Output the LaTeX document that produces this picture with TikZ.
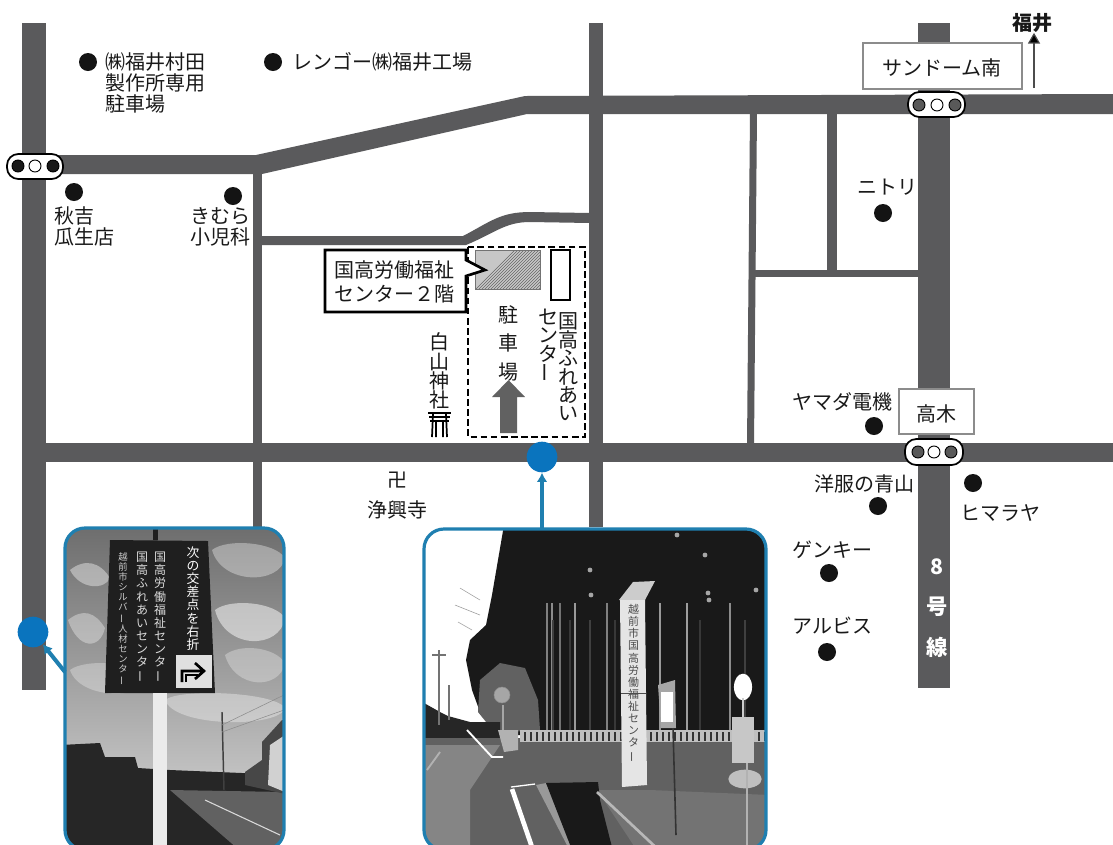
\documentclass[tikz,border=0pt]{standalone}
\usepackage{fontspec}
\usepackage{graphicx}
\usetikzlibrary{arrows.meta}
\setmainfont{Noto Sans CJK JP}
\newfontfamily\jpfont{Noto Sans CJK JP}
\newcommand{\chobar}{\rotatebox[origin=c]{90}{ー}}
\definecolor{roadc}{HTML}{5A5A5C}
\definecolor{bluedot}{HTML}{0A74BE}
\definecolor{framec}{HTML}{1F7FB0}
\begin{document}
\begin{tikzpicture}[x=0.75pt,y=-0.75pt,line join=miter,
  road/.style={fill=roadc,draw=none},
  lbl/.style={font=\jpfont\fontsize{15}{15.8}\selectfont,inner sep=0pt,text=black!90},
  routelbl/.style={inner sep=0pt,text=white,font=\jpfont\bfseries\fontsize{16}{17}\selectfont},
  dotmark/.style={circle,fill=black!92,draw=none,minimum size=13.5pt,inner sep=0pt},
  pill/.style={draw=black,fill=white,line width=1.3pt,rounded corners=8.5pt},
  lampdark/.style={circle,fill=#1,draw=black,line width=0.7pt,minimum size=9pt,inner sep=0pt},
  bluemark/.style={circle,fill=bluedot,draw=none,minimum size=23pt,inner sep=0pt},
  bluearrow/.style={draw=framec,line width=3pt,-{Latex[length=7pt,width=8pt]}},
  photoframe/.style={draw=framec,line width=2.4pt,rounded corners=15pt},
  photot/.style={inner sep=0pt,align=center,anchor=north},
]
\useasboundingbox (0,0) rectangle (1113,844);
\fill[white] (0,0) rectangle (1113,844);

% roads
\fill[road] (22,23) rectangle (46,690);
\fill[road] (46,155) -- (256,155) -- (525,96) -- (1113,94) -- (1113,114) -- (527,114) -- (262,174) -- (46,174) -- cycle;
\fill[road] (253,170) rectangle (262,527);
\fill[road] (258,236) -- (463,236) .. controls (490,222) and (500,212) .. (530,212) -- (590,213) -- (590,223) -- (530,222) .. controls (505,222) and (495,233) .. (466,245) -- (258,245) -- cycle;
\fill[road] (589,23) rectangle (603,527);
\fill[road] (46,443) rectangle (1113,462);
\fill[road] (918,23) rectangle (950,688);
\fill[road] (750,112) -- (757,112) -- (754,445) -- (747,445) -- cycle;
\fill[road] (827,112) rectangle (837,272);
\fill[road] (750,270) rectangle (920,277);

% traffic lights
\draw[pill] (7,154) rectangle (63,179);
\node[lampdark=black!90] (l1a) at (18,166) {};
\node[lampdark=white] (l1b) at (35,166) {};
\node[lampdark=black!90] (l1c) at (53,166) {};
\draw[pill] (908,92) rectangle (965,117);
\node[lampdark=black!65] (l2a) at (919,105) {};
\node[lampdark=white] (l2b) at (937,105) {};
\node[lampdark=black!65] (l2c) at (955,105) {};
\draw[pill] (905,439) rectangle (963,465);
\node[lampdark=black!65] (l3a) at (918,452) {};
\node[lampdark=white] (l3b) at (934,452) {};
\node[lampdark=black!65] (l3c) at (951,452) {};

% place boxes
\draw[draw=black!45,fill=white,line width=0.9pt] (863,43) rectangle (1022,89);
\node[lbl] (sandome) at (942,68) {サンドーム南};
\draw[draw=black!45,fill=white,line width=0.9pt] (899,389) rectangle (974,434);
\node[lbl] (takagi) at (936,414) {高木};

% Fukui
\node[lbl,font=\jpfont\bfseries\fontsize{15}{15.8}\selectfont] (fukui) at (1032,23) {福井};
\coordinate (fukuifoot) at (1034,88);
\draw[black!70,line width=0.9pt,-{Triangle[length=8pt,width=9pt,fill=black]}] (fukuifoot) -- (fukui.south -| fukuifoot);

% dots
\foreach \n/\x/\y in {d1/88/62,d2/273/62,d3/74/192,d4/233/196,d5/883/213,d6/874/426,d7/878/506,d8/973/483,d9/829/573,d10/827/652}
  \node[dotmark] (\n) at (\x,\y) {};

% labels
\node[lbl,anchor=west,align=left] (t1) at (105,83) {㈱福井村田\\製作所専用\\駐車場};
\node[lbl,anchor=west] (t2) at (292,62) {レンゴー㈱福井工場};
\node[lbl,anchor=west,align=left] (t3) at (54,226) {秋吉\\瓜生店};
\node[lbl,anchor=east,align=right] (t4) at (251,227) {きむら\\小児科};
\node[lbl,anchor=west] (t5) at (857,187) {ニトリ};
\node[lbl,anchor=west] (t6) at (792,402) {ヤマダ電機};
\node[lbl,anchor=west] (t7) at (814,484) {洋服の青山};
\node[lbl,anchor=west] (t8) at (960,513) {ヒマラヤ};
\node[lbl,anchor=west] (t9) at (792,550) {ゲンキー};
\node[lbl,anchor=west] (t10) at (792,626) {アルビス};
\node[routelbl] (r1) at (937,567) {8};
\node[routelbl] (r2) at (937,607) {号};
\node[routelbl] (r3) at (937,647) {線};
\node[lbl] (manji) at (397,480) {卍};
\node[lbl] (jokoji) at (397,510) {浄興寺};

% site
\draw[black,line width=1.7pt,dash pattern=on 5pt off 2.6pt] (468,247) rectangle (585,437);
\begin{scope}
  \clip (475,250) rectangle (540,289);
  \fill[black!22] (475,250) rectangle (540,289);
  \foreach \k in {0,3,...,110} \draw[black!60,line width=0.5pt] (470+\k,295) -- (470+\k+50,245);
\end{scope}
\draw[black!55,line width=0.5pt] (475,250) rectangle (540,289);
\draw[black,line width=1pt,fill=white] (551,250) rectangle (570,300);
\draw[black,line width=2pt,fill=white] (325,250) -- (466,250) -- (466,260) -- (485,270) -- (466,276) -- (466,312) -- (325,312) -- cycle;
\node[lbl] (c1) at (394,270) {国高労働福祉};
\node[lbl] (c2) at (394,294) {センター２階};
\foreach \c [count=\i from 0] in {国,高,ふ,れ,あ,い}
  \node[lbl] (fa\i) at (568,{321+\i*18.5}) {\c};
\foreach \c [count=\i from 0] in {セ,ン,タ,\chobar}
  \node[lbl] (ce\i) at (548,{317+\i*18.5}) {\c};
\foreach \c/\y [count=\i] in {駐/315,車/343,場/372}
  \node[lbl] (pk\i) at (508,\y) {\c};
\foreach \c/\y [count=\i] in {白/342,山/362,神/381,社/400}
  \node[lbl] (hk\i) at (439,\y) {\c};
\fill[black!62] (500,433) -- (500,397) -- (492,397) -- (508.5,380) -- (525,397) -- (517,397) -- (517,433) -- cycle;
% torii
\draw[black,line width=1.2pt] (428,413) -- (451,413) (429,417) -- (450,417) (430,421) -- (449,421);
\draw[black,line width=1.3pt] (433,414) -- (432,437) (446,414) -- (447,437) (436,421) -- (436,437) (443,421) -- (443,437);

% left photo
\begin{scope}
  \clip[rounded corners=15pt] (65,528) rectangle (284,850);
  \shade[top color=black!58,bottom color=black!22] (60,520) rectangle (290,790);
  \foreach \a/\b/\c/\d/\o in {70/570/110/590/0.4,68/620/105/650/0.35,212/550/285/585/0.35,215/610/285/650/0.5,70/670/150/700/0.3,165/700/285/728/0.35,225/655/285/690/0.3}
    \fill[white,opacity=\o] (\a,\b) .. controls (\a+15,\b-12) and (\c-10,\b-8) .. (\c,\b+8) .. controls (\c-5,\d) and (\a+10,\d) .. (\a,\b) -- cycle;
  % ground and buildings
  \fill[black!85] (60,745) -- (100,743) -- (105,757) -- (135,757) -- (138,768) -- (170,770) -- (290,775) -- (290,855) -- (60,855) -- cycle;
  \fill[black!62] (170,790) -- (285,792) -- (285,855) -- (245,855) -- cycle;
  \draw[black!15,line width=0.8pt] (205,800) -- (280,835);
  \fill[black!72] (262,742) -- (282,720) -- (290,720) -- (290,795) -- (245,785) -- (245,772) -- (262,760) -- cycle;
  \fill[black!18] (270,745) -- (285,735) -- (285,792) -- (268,785) -- cycle;
  \draw[black!75,line width=1.1pt] (222,712) -- (224,790);
  \draw[black!45,line width=0.4pt] (222,725) -- (284,695) (222,732) -- (284,710);
  \fill[black!88] (153,528) rectangle (158,540);
  \fill[black!88] (110,540) -- (208,541) -- (215,693) -- (105,693) -- cycle;
  \fill[black!8] (153,693) rectangle (167,855);
  \fill[white!88!black] (176,655) rectangle (212,688);
  \draw[black,line width=2pt] (182,682) -- (182,671) -- (202,671) (195,663) -- (204,671) -- (195,679);
  \draw[black,line width=1.4pt] (186,682) -- (186,675) -- (198,675);
\end{scope}
\node[photot,text=white,font=\jpfont\fontsize{9.6}{9.9}\selectfont] (sg1) at (193,546) {次\\の\\交\\差\\点\\を\\右\\折};
\node[photot,text=black!15,font=\jpfont\fontsize{9}{9.8}\selectfont] (sg2) at (160,552) {国\\高\\労\\働\\福\\祉\\セ\\ン\\タ\\\chobar};
\node[photot,text=black!15,font=\jpfont\fontsize{9}{9.8}\selectfont] (sg3) at (142,552) {国\\高\\ふ\\れ\\あ\\い\\セ\\ン\\タ\\\chobar};
\node[photot,text=black!20,font=\jpfont\fontsize{7}{7.6}\selectfont] (sg4) at (123,552) {越\\前\\市\\シ\\ル\\バ\\\chobar\\人\\材\\セ\\ン\\タ\\\chobar};
\draw[photoframe] (65,528) rectangle (284,850);
\node[bluemark] (b1) at (33,632) {};
\coordinate (p1edge) at (65,672);
\draw[bluearrow] (p1edge) -- (b1);

% right photo
\begin{scope}
  \clip[rounded corners=15pt] (424,529) rectangle (766,850);
  \fill[white] (420,525) rectangle (770,745);
  % forest
  \fill[black!90] (504,525) -- (492,595) -- (486,625) -- (470,640) -- (466,660) -- (472,690) -- (480,712) -- (498,735) -- (770,735) -- (770,525) -- cycle;
  \fill[black!62] (480,680) -- (500,663) -- (525,668) -- (538,700) -- (540,730) -- (495,733) -- (478,712) -- cycle;
  \fill[black!85] (424,703) -- (440,712) -- (448,716) -- (470,722) -- (500,722) -- (500,738) -- (424,738) -- cycle;
  \foreach \x/\g in {547/50,552/45,560/55,575/40,607/50,660/40,687/38,730/45}
    \draw[black!\g,line width=1.6pt] (\x,603) -- (\x,732);
  \foreach \x/\g in {553/75,570/78,590/75,615/78,700/78,745/75}
    \draw[black!\g,line width=1pt] (\x,620) -- (\x,732);
  \foreach \x/\y in {590/570,591/595,708/593,709/600,705/555,756/590,677/535}
    \fill[black!35] (\x,\y) circle (1.8pt);
  % branches against the sky
  \draw[black!40,line width=0.4pt] (480,600) -- (460,588) (480,615) -- (455,605) (472,630) -- (458,622);
  \draw[black!55,line width=1.1pt] (439,650) -- (439,725) (432,655) -- (446,655);
  \draw[black!55,line width=0.8pt] (449,685) -- (449,720);
  % ground
  \fill[black!62] (424,738) rectangle (770,855);
  \fill[black!48] (424,745) -- (500,745) -- (470,790) -- (470,855) -- (424,855) -- cycle;
  \fill[black!25] (520,730) rectangle (770,742);
  \foreach \k in {0,6,...,240} \fill[black!80] (524+\k,732) rectangle (526+\k,741);
  \fill[white!70!black] (498,730) -- (518,730) -- (518,750) -- (504,752) -- cycle;
  \draw[black!45,fill=black!35] (502,695) circle (6pt);
  \draw[black!35,line width=1pt] (503,705) -- (503,730);
  \draw[white,line width=1.4pt] (467,730) -- (492,757) -- (503,757);
  \draw[black!30,line width=1.4pt] (427,770) -- (440,752);
  \draw[white,line width=3.5pt] (512,789) -- (533,850);
  \draw[white,line width=1pt] (511,787) -- (535,784);
  \fill[black!55] (597,790) -- (650,790) -- (770,795) -- (770,855) -- (640,855) -- cycle;
  \fill[black!40] (536,785) -- (546,783) -- (582,855) -- (572,855) -- cycle;
  \fill[black!90] (546,783) -- (598,782) -- (600,800) -- (614,855) -- (574,855) -- cycle;
  \draw[black!28,line width=2pt] (597,792) -- (664,855);
  % pillar
  \fill[black!20] (619,600) -- (633,582) -- (655,581) -- (645,600) -- cycle;
  \fill[black!10] (620,600) -- (622,787) -- (647,785) -- (645,600) -- cycle;
  \draw[black!70,line width=0.4pt] (621,693) -- (646,693);
  % small sign
  \fill[black!35] (658,685) -- (675,680) -- (676,728) -- (661,728) -- cycle;
  \fill[white] (661,692) rectangle (673,722);
  \draw[black!80,line width=1.2pt] (673,728) -- (676,835);
  % mirror and bus stop
  \fill[black!22] (732,717) rectangle (754,763);
  \fill[white] (743,687) ellipse (6.8pt and 10pt);
  \draw[black!20,line width=1.6pt] (743,698) -- (743,717);
  \fill[black!25] (745,779) ellipse (12.5pt and 7pt);
  \draw[black!30,line width=1.6pt] (747,763) -- (747,855);
\end{scope}
\node[photot,text=black!70,font=\jpfont\fontsize{8.2}{9.1}\selectfont] (pl1) at (633.5,604) {越\\前\\市\\国\\高\\労\\働\\福\\祉\\セ\\ン\\タ\\\chobar};
\draw[photoframe] (424,529) rectangle (766,850);
\node[bluemark] (b2) at (542,457) {};
\coordinate (p2edge) at (542,528);
\draw[bluearrow] (p2edge) -- (b2);
\end{tikzpicture}
\end{document}
